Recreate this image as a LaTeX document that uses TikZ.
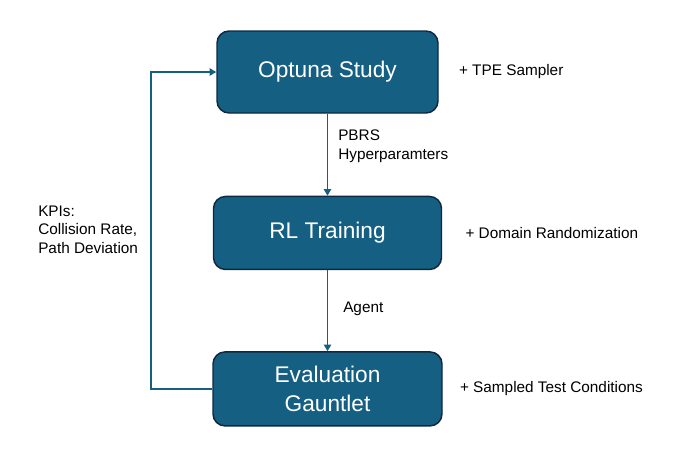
\documentclass[tikz,border=0pt]{standalone}
\usepackage{fontspec}
\setmainfont{Liberation Sans}
\usetikzlibrary{positioning,arrows.meta}
\definecolor{boxblue}{HTML}{156082}
\definecolor{boxedge}{HTML}{0E2841}
\tikzset{
  stage/.style={draw=boxedge, line width=1.1pt, fill=boxblue, rounded corners=9pt, text=white,
    font=\fontsize{17}{21.75}\selectfont, align=center},
  flow/.style={draw=boxblue, line width=1.4pt, -{Triangle[length=5pt,width=5.5pt]}},
  note/.style={font=\fontsize{11.5}{14}\selectfont, align=left, inner sep=0pt}
}
\begin{document}
\begin{tikzpicture}
[x=0.75pt, y=-0.75pt, node distance=61.5pt]
\useasboundingbox (0,0) rectangle (681,454);

\node[stage, minimum width=165.75pt, minimum height=61.5pt] (opt) at (327.5,72) {Optuna Study};
\node[stage, minimum width=171pt, minimum height=54.75pt, below=of opt] (rl) {RL Training};
\node[stage, minimum width=171.75pt, minimum height=55.5pt, below=60.75pt of rl] (eval) {Evaluation\\Gauntlet};

% side notes
\node[note, right=15pt of opt] (tpe) {+ TPE Sampler};
\node[note, right=17.25pt of rl] (dom) {+ Domain Randomization};
\node[note, right=12.75pt of eval] (cond) {+ Sampled Test Conditions};

% connectors
\draw[flow] (opt) -- (rl);
\draw[flow] (rl) -- (eval);
\draw[flow] (eval.west) -- ++(-61,0) coordinate (loop) |- (opt.west);

\node[note, anchor=west] (hyp) at (338,146.5) {PBRS\\Hyperparamters};
\node[note, anchor=west] (agent) at (343,309) {Agent};
\node[note, anchor=west] (kpi) at (38,229.5) {KPIs:\\Collision Rate,\\Path Deviation};
\end{tikzpicture}
\end{document}
